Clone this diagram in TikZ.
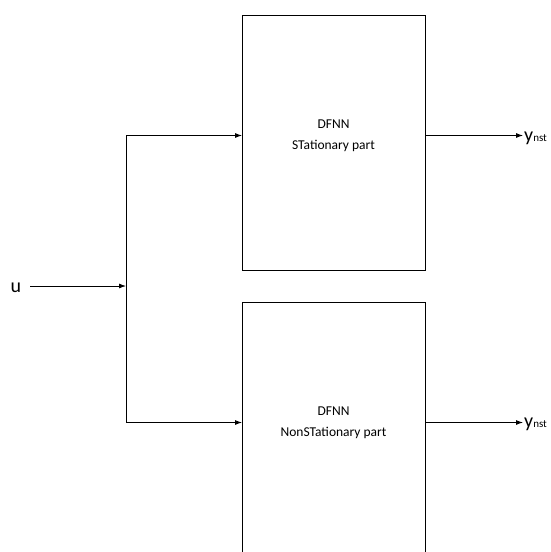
\documentclass[tikz,border=0pt]{standalone}
\usepackage{fontspec}
\setmainfont{Carlito}
\usetikzlibrary{arrows.meta,calc}
\tikzset{
  block/.style={draw, line width=1pt, minimum width=183pt, anchor=north west},
  blocktext/.style={align=center, font=\fontsize{13.5}{21}\selectfont},
  signal/.style={font=\fontsize{20}{20}\selectfont, inner sep=1pt}
}
\begin{document}
\begin{tikzpicture}[x=1pt, y=-1pt, >={Latex[length=7pt,width=5pt]}]
    \useasboundingbox (0,0) rectangle (551,552);
    \clip (0,0) rectangle (551,552);

    % Blocks
    \node [block, minimum height=255pt] (stat) at (242,15) {};
    \node [block, minimum height=300pt] (nonstat) at (242,302) {};
    \node [blocktext] (stattxt) at (333.5,135.5) {DFNN\\STationary part};
    \node [blocktext] (nonstattxt) at (333.5,422.5) {DFNN\\NonSTationary part};

    % Input and branch point
    \node [signal, anchor=base] (u) at (16,292) {u};
    \coordinate (junc) at (126,286);
    \draw [->, line width=0.8pt] (30,286) -- (junc);
    \draw [->, line width=0.8pt] (junc) |- (stat.west |- stattxt);
    \draw [->, line width=0.8pt] (junc) |- (nonstat.west |- nonstattxt);

    % Outputs
    \node [signal, anchor=west] (ystat) at (523,138) {y\fontsize{11}{11}\selectfont nst};
    \node [signal, anchor=west] (ynonstat) at (523,424) {y\fontsize{11}{11}\selectfont nst};
    \draw [->, line width=0.8pt] (stat.east |- stattxt) -- (ystat.west |- stattxt);
    \draw [->, line width=0.8pt] (nonstat.east |- nonstattxt) -- (ynonstat.west |- nonstattxt);
\end{tikzpicture}
\end{document}
